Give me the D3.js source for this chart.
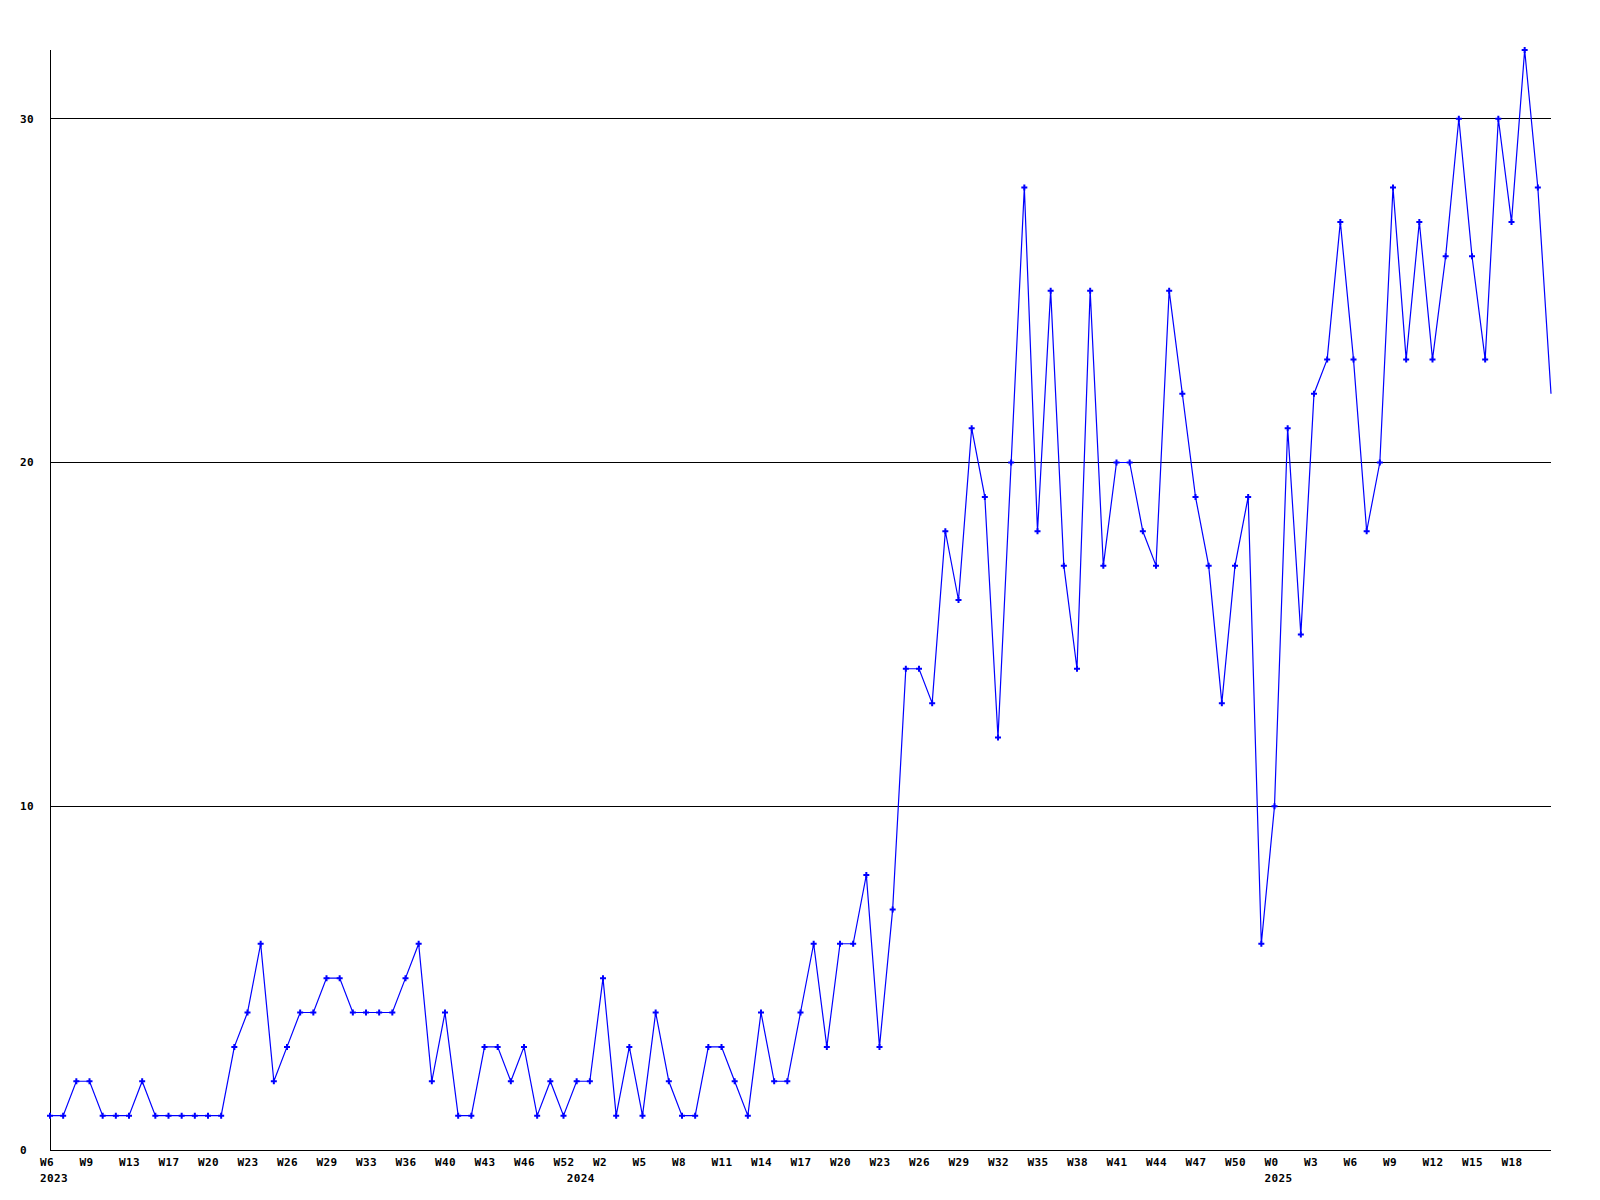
<!DOCTYPE html>
<html>
<head>
<meta charset="utf-8">
<script src="https://cdn.jsdelivr.net/npm/d3@7"></script>
<style>
  html, body { margin: 0; padding: 0; background: #fff; }
  svg { display: block; }
  text { font-family: "DejaVu Sans Mono", "Liberation Mono", monospace; font-weight: bold; font-size: 11px; fill: #000; letter-spacing: 0.4px; }
</style>
</head>
<body>
<svg id="chart" width="1600" height="1200"></svg>
<script>
// Weekly values, first point = W6 2023
const values = [
  1,1,2,2,1,1,1,2,1,1,1,1,1,1,3,4,6,2,3,4,
  4,5,5,4,4,4,4,5,6,2,4,1,1,3,3,2,3,1,2,1,
  2,2,5,1,3,1,4,2,1,1,3,3,2,1,4,2,2,4,6,3,
  6,6,8,3,7,14,14,13,18,16,21,19,12,20,28,18,25,17,14,25,
  17,20,20,18,17,25,22,19,17,13,17,19,6,10,21,15,22,23,27,23,
  18,20,28,23,27,23,26,30,26,23,30,27,32,28,22
];
// X tick labels, one every 3rd point starting at the first
const tickLabels = [
  "W6","W9","W13","W17","W20","W23","W26","W29","W33","W36","W40","W43","W46","W52",
  "W2","W5","W8","W11","W14","W17","W20","W23","W26","W29","W32","W35","W38","W41",
  "W44","W47","W50","W0","W3","W6","W9","W12","W15","W18"
];
const tickStep = 3;
// Year labels and the point index where each year starts
const yearLabels = ["2023", "2024", "2025"];
const yearIndex = [0, 40, 93];
// Y gridline values
const yTicks = [0, 10, 20, 30];
const yMax = 32;

(function () {
const svg = d3.select("#chart");
const mLeft = 50, mRight = 1551, mTop = 50, mBottom = 1150;

const x = d3.scaleLinear().domain([0, values.length - 1]).range([mLeft, mRight]);
const y = d3.scaleLinear().domain([0, yMax]).range([mBottom, mTop]);

// gridlines
svg.append("g").selectAll("line").data(yTicks.filter(d => d > 0)).join("line")
  .attr("x1", mLeft).attr("x2", mRight)
  .attr("y1", d => Math.floor(y(d)) + 0.5).attr("y2", d => Math.floor(y(d)) + 0.5)
  .attr("stroke", "#000").attr("stroke-width", 1).attr("shape-rendering", "crispEdges");

// y labels
svg.append("g").selectAll("text").data(yTicks).join("text")
  .attr("x", 20).attr("y", d => y(d)).attr("dy", "0.36em")
  .text(d => d);

// axes
svg.append("line").attr("x1", mLeft + 0.5).attr("x2", mLeft + 0.5).attr("y1", mTop).attr("y2", mBottom)
  .attr("stroke", "#000").attr("shape-rendering", "crispEdges");
svg.append("line").attr("x1", mLeft).attr("x2", mRight).attr("y1", mBottom + 0.5).attr("y2", mBottom + 0.5)
  .attr("stroke", "#000").attr("shape-rendering", "crispEdges");

// x labels
svg.append("g").selectAll("text").data(tickLabels).join("text")
  .attr("x", (d, i) => x(i * tickStep) - 10).attr("y", 1166)
  .text(d => d);
svg.append("g").selectAll("text").data(yearLabels).join("text")
  .attr("x", (d, i) => x(yearIndex[i]) - 10).attr("y", 1182)
  .text(d => d);

// line
const line = d3.line().x((d, i) => x(i)).y(d => y(d));
svg.append("path").datum(values)
  .attr("d", line).attr("fill", "none").attr("stroke", "#0000ff").attr("stroke-width", 1.2);

// markers
const sym = d3.symbol().type(d3.symbolCross).size(20);
svg.append("g").selectAll("path").data(values.slice(0, values.length - 1)).join("path")
  .attr("transform", (d, i) => `translate(${x(i)},${y(d)})`)
  .attr("d", sym).attr("fill", "#0000ff");
})();
</script>
</body>
</html>
